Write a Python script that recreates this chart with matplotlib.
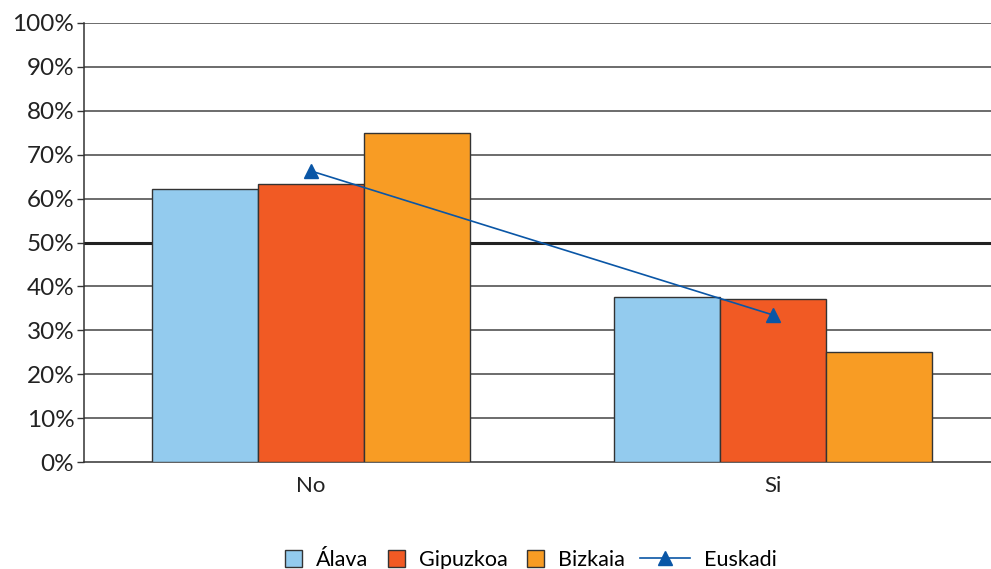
import numpy as np
import matplotlib
matplotlib.use("Agg")
import matplotlib.pyplot as plt
from matplotlib.ticker import PercentFormatter

categories = ["No", "Si"]
alava = [62.2, 37.6]
gipuzkoa = [63.3, 37.1]
bizkaia = [74.9, 25.1]
euskadi = [66.3, 33.5]

plt.rcParams['font.family'] = ['Lato', 'DejaVu Sans']

fig = plt.figure(figsize=(9.91, 5.69), dpi=100)
ax = fig.add_axes([0.0848, 0.188, 0.9152, 0.7716])

x = np.arange(len(categories))
w = 0.2294
edge = "#333333"
b1 = ax.bar(x - w, alava, w, color="#93CBEE", edgecolor=edge, linewidth=1, label="Álava", zorder=3)
b2 = ax.bar(x, gipuzkoa, w, color="#F15A24", edgecolor=edge, linewidth=1, label="Gipuzkoa", zorder=3)
b3 = ax.bar(x + w, bizkaia, w, color="#F89C24", edgecolor=edge, linewidth=1, label="Bizkaia", zorder=3)
ln, = ax.plot(x, euskadi, color="#0A56A6", linewidth=1.2, marker="^", markersize=10,
              label="Euskadi", zorder=4)

ax.set_xlim(-0.491, 1.472)
ax.set_ylim(0, 100)
ax.set_yticks(np.arange(0, 101, 10))
ax.yaxis.set_major_formatter(PercentFormatter(decimals=0))
ax.set_xticks(x)
ax.set_xticklabels(categories)

# gridlines, 50% one is heavier
for v in range(10, 101, 10):
    if v == 50:
        ax.axhline(v, color="#222222", linewidth=2.2, zorder=1)
    else:
        ax.axhline(v, color="#444444", linewidth=1.1, zorder=1)

for s in ["top", "right"]:
    ax.spines[s].set_visible(False)
ax.spines["left"].set_color("#333333")
ax.spines["bottom"].set_color("#333333")
ax.spines["left"].set_linewidth(1.1)
ax.spines["bottom"].set_linewidth(1.1)

ax.tick_params(axis="y", length=5, width=1, color="#333333", labelsize=17.5, pad=2,
               labelcolor="#222222")
ax.tick_params(axis="x", length=0, labelsize=16, pad=10, labelcolor="#222222")

# two legends so the line handle can be longer than the squares
leg1 = fig.legend([b1, b2, b3], ["Álava", "Gipuzkoa", "Bizkaia"],
                  loc="center left", bbox_to_anchor=(285 / 991, 0.016), ncol=3,
                  frameon=False, fontsize=15.5, handlelength=0.8, handleheight=0.8,
                  columnspacing=0.9, handletextpad=0.65, borderpad=0, borderaxespad=0)
leg2 = fig.legend([ln], ["Euskadi"],
                  loc="center left", bbox_to_anchor=(640 / 991, 0.016),
                  frameon=False, fontsize=15.5, handlelength=2.3,
                  handletextpad=0.65, borderpad=0, borderaxespad=0)

fig.savefig("out.png", dpi=100)
